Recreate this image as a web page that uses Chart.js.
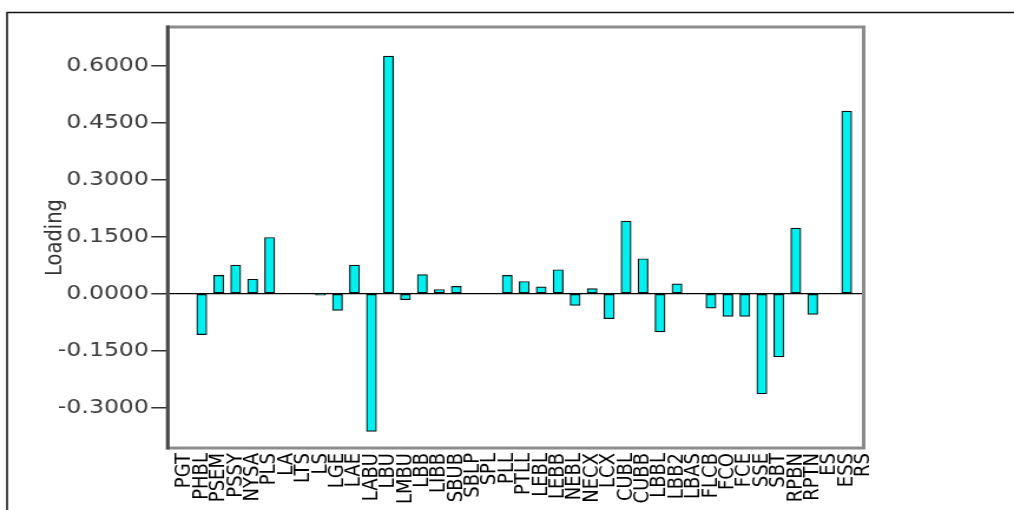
<!DOCTYPE html>
<html><head><meta charset="utf-8">
<script src="https://cdn.jsdelivr.net/npm/chart.js@4/dist/chart.umd.min.js"></script>
<style>
html,body{margin:0;padding:0;background:#fff;overflow:hidden;}
</style></head><body>
<canvas id="c" width="860" height="510" style="display:block;width:1014px;height:510px;"></canvas>
<script>
// Category (variable) names
const categories = ['', 'PGT', 'PHBL', 'PSEM', 'PSSY', 'NYSA', 'PLS', 'LA', 'LTS', 'LS', 'LGE',
  'LAE', 'LABU', 'LBU', 'LMBU', 'LBB', 'LIBB', 'SBUB', 'SBLP', 'SPL', 'PLL',
  'PTLL', 'LEBL', 'LEBB', 'NEBL', 'NECX', 'LCX', 'CUBL', 'CUBB', 'LBBL', 'LBB2',
  'LBAS', 'FLCB', 'FCO', 'FCE', 'SSE', 'SBT', 'RPBN', 'RPTN', 'ES', 'ESS', 'RS'];
// Loading values (null = no bar)
const loadings = [null, null, -0.108, 0.048, 0.075, 0.038, 0.148, null, null, -0.004, -0.044,
  0.075, -0.363, 0.626, -0.016, 0.050, 0.011, 0.019, null, null, 0.048,
  0.032, 0.018, 0.063, -0.031, 0.013, -0.066, 0.191, 0.092, -0.101, 0.026,
  null, -0.038, -0.060, -0.060, -0.264, -0.167, 0.173, -0.055, null, 0.481, null];
// Y axis ticks and range
const yTickValues = [-0.3, -0.15, 0, 0.15, 0.3, 0.45, 0.6];
const yMin = -0.407;
const yMax = 0.703;

const framePlugin = {
  id: 'frame',
  beforeDraw(chart) {
    const ctx = chart.ctx;
    ctx.save();
    ctx.fillStyle = '#ffffff';
    ctx.fillRect(0, 0, chart.width, chart.height);
    ctx.strokeStyle = '#111';
    ctx.lineWidth = 1.5;
    ctx.beginPath();
    ctx.moveTo(6, chart.height);
    ctx.lineTo(6, 12.5);
    ctx.lineTo(chart.width, 12.5);
    ctx.stroke();
    ctx.restore();
  },
  afterDatasetsDraw(chart) {
    const {ctx, chartArea: a, scales: {y}} = chart;
    ctx.save();
    const y0 = y.getPixelForValue(0);
    ctx.strokeStyle = '#000';
    ctx.lineWidth = 1.3;
    ctx.beginPath();
    ctx.moveTo(a.left, y0);
    ctx.lineTo(a.right, y0);
    ctx.stroke();
    ctx.lineWidth = 3;
    ctx.strokeStyle = '#8c8c8c';
    ctx.strokeRect(a.left, a.top, a.right - a.left, a.bottom - a.top);
    ctx.strokeStyle = '#4a4a4a';
    ctx.beginPath();
    ctx.moveTo(a.left, a.top - 1.5);
    ctx.lineTo(a.left, a.bottom + 1.5);
    ctx.stroke();
    ctx.restore();
  }
};

new Chart(document.getElementById('c'), {
  type: 'bar',
  data: {
    labels: categories,
    datasets: [{
      data: loadings,
      backgroundColor: '#00f0f0',
      borderColor: '#111',
      borderWidth: 1.2,
      borderSkipped: false,
      barThickness: 8.5
    }]
  },
  options: {
    responsive: false,
    animation: false,
    devicePixelRatio: 1,
    layout: {padding: {left: 0, top: 27, right: 127.5, bottom: 0}},
    plugins: {legend: {display: false}, tooltip: {enabled: false}},
    scales: {
      x: {
        offset: false,
        grid: {display: false, drawTicks: false, offset: false},
        border: {display: false},
        ticks: {
          autoSkip: false, maxRotation: 90, minRotation: 90, padding: 5,
          color: '#000', font: {family: 'DejaVu Sans', size: 18}
        },
        afterFit(scale) { scale.height = 62; }
      },
      y: {
        min: yMin, max: yMax,
        grid: {drawOnChartArea: false, drawTicks: true, tickLength: 14, tickColor: '#333', lineWidth: 1.5},
        border: {display: false},
        ticks: {
          padding: 2, color: '#3d3d3d', font: {family: 'DejaVu Sans', size: 20},
          callback: v => Number(v).toFixed(4)
        },
        afterBuildTicks(scale) { scale.ticks = yTickValues.map(v => ({value: v})); },
        title: {
          display: true, text: 'Loading', color: '#333',
          font: {family: 'DejaVu Sans', size: 19.5}, padding: {top: 35, bottom: 0}
        },
        afterFit(scale) { scale.width = 142.3; }
      }
    }
  },
  plugins: [framePlugin]
});
</script>
</body></html>
